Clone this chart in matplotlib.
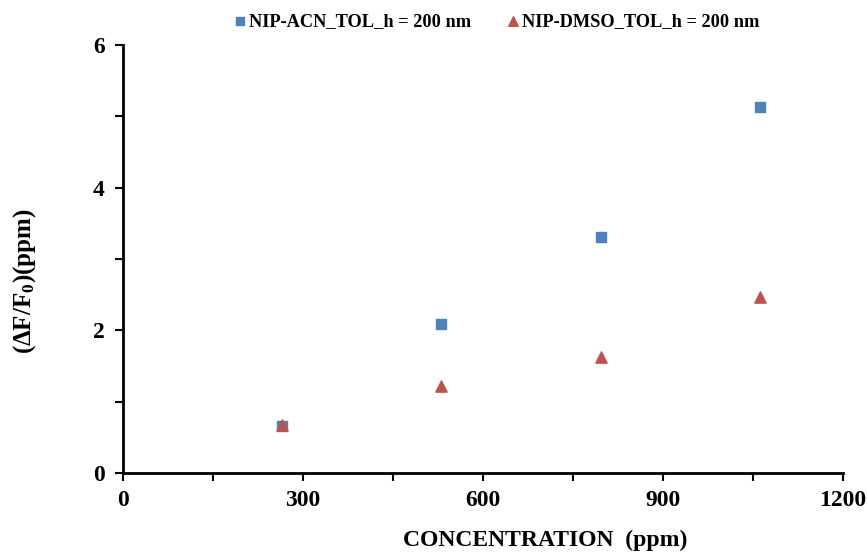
import numpy as np
import matplotlib
matplotlib.use("Agg")
import matplotlib.pyplot as plt

# datos
concentracion = [265, 530, 796, 1062]
acn_tol = [0.66, 2.09, 3.31, 5.13]
dmso_tol = [0.67, 1.22, 1.63, 2.47]

azul = '#4F81BD'
rojo = '#C0504D'

plt.rcParams['font.family'] = ['Liberation Serif', 'DejaVu Serif']
plt.rcParams['font.weight'] = 'bold'
plt.rcParams['mathtext.fontset'] = 'custom'
plt.rcParams['mathtext.rm'] = 'Liberation Serif:bold'
plt.rcParams['mathtext.bf'] = 'Liberation Serif:bold'
plt.rcParams['mathtext.default'] = 'bf'

fig = plt.figure(figsize=(8.67, 5.54), dpi=100)
ax = fig.add_axes([0.1419, 0.1462, 0.8304, 0.7726])

ax.scatter(concentracion, acn_tol, marker='s', s=55, color=azul,
           label='NIP-ACN_TOL_h = 200 nm', zorder=3)
ax.scatter(concentracion, dmso_tol, marker='^', s=65, color=rojo,
           label='NIP-DMSO_TOL_h = 200 nm', zorder=3)

ax.set_xlim(0, 1200)
ax.set_ylim(0, 6)
ax.set_xticks([0, 300, 600, 900, 1200])
ax.set_yticks([0, 2, 4, 6])
ax.set_xticks([150, 450, 750, 1050], minor=True)
ax.set_yticks([1, 3, 5], minor=True)

for lado in ['top', 'right']:
    ax.spines[lado].set_visible(False)
for lado in ['left', 'bottom']:
    ax.spines[lado].set_linewidth(2)

ax.tick_params(which='both', direction='out', width=1.5, length=6, labelsize=17)
ax.tick_params(axis='x', pad=6)
ax.tick_params(axis='y', pad=7)
for t in ax.get_xticklabels() + ax.get_yticklabels():
    t.set_fontweight('bold')

fig.text(0.629, 0.025, 'CONCENTRATION  (ppm)', ha='center', va='center',
         fontsize=17, fontweight='bold')
fig.text(0.028, 0.493, '(ΔF/F$_0$)(ppm)', ha='center', va='center',
         rotation=90, fontsize=18, fontweight='bold')

fig.legend(loc='center', bbox_to_anchor=(0.572, 0.962), ncol=2, frameon=False,
           handlelength=0.8, handletextpad=0.1, columnspacing=1.9, markerscale=0.85,
           prop={'weight': 'bold', 'size': 13.2})

fig.savefig('out.png', dpi=100)
